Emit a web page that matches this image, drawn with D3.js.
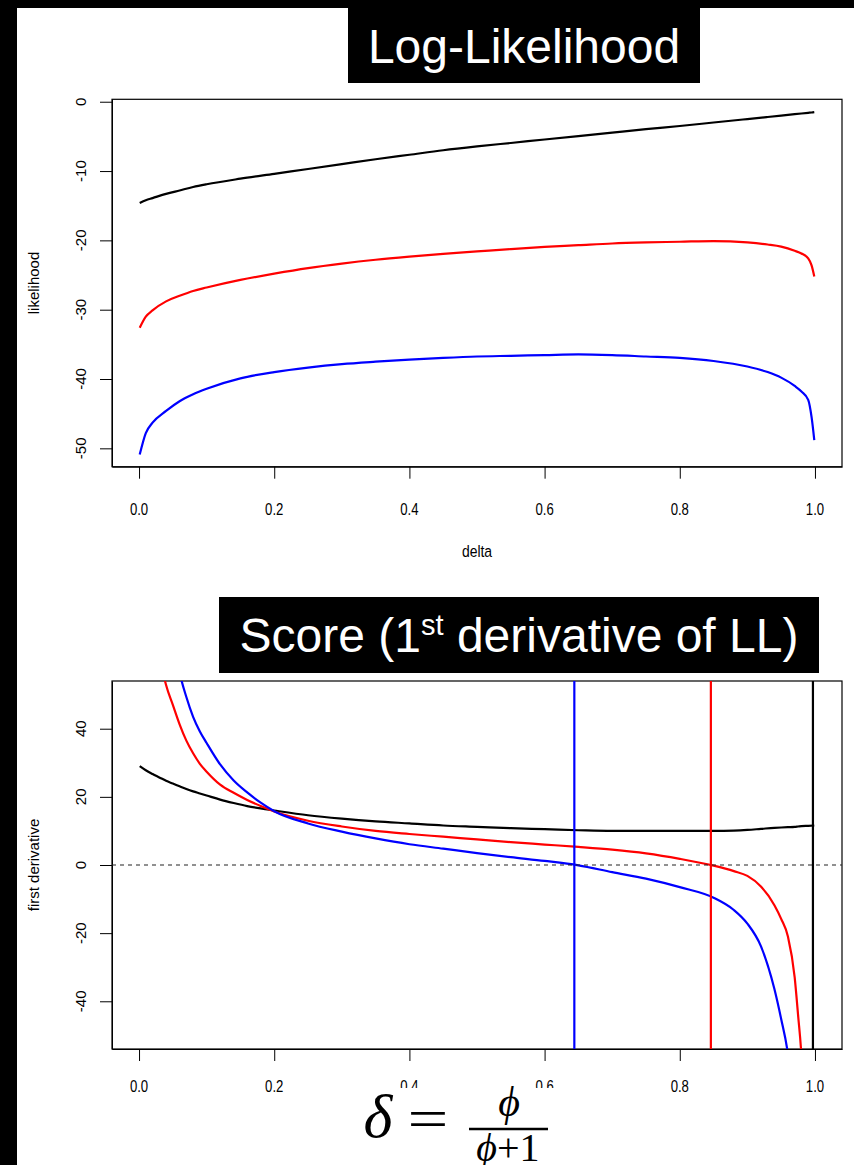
<!DOCTYPE html>
<html><head><meta charset="utf-8">
<script src="https://cdn.jsdelivr.net/npm/d3@7"></script>
<style>body{margin:0;background:#fff;} svg{display:block;}</style>
</head><body><svg id="c" width="854" height="1165"></svg>
<script>
// ---------------- DATA ----------------
const deltaLL = [0.001,0.01,0.02,0.04,0.06,0.08,0.1,0.15,0.2,0.25,0.3,0.35,0.4,0.45,0.5,0.55,0.6,0.65,0.7,0.75,0.8,0.85,0.9,0.93,0.95,0.97,0.98,0.99,0.995,0.999];
const llBlack = [-14.6,-14.2,-13.9,-13.3,-12.8,-12.3,-11.9,-11.1,-10.4,-9.7,-9.0,-8.3,-7.65,-7.0,-6.45,-5.95,-5.45,-4.95,-4.45,-3.95,-3.5,-3.0,-2.5,-2.2,-2.0,-1.8,-1.7,-1.6,-1.55,-1.5];
const llRed = [-32.6,-31.0,-30.1,-28.8,-28.0,-27.3,-26.8,-25.7,-24.8,-24.0,-23.35,-22.8,-22.35,-21.95,-21.6,-21.25,-20.95,-20.7,-20.45,-20.3,-20.2,-20.1,-20.3,-20.6,-20.9,-21.5,-21.9,-22.6,-23.6,-25.2];
const llBlue = [-50.9,-47.8,-46.3,-44.6,-43.2,-42.2,-41.4,-39.9,-39.0,-38.35,-37.85,-37.5,-37.2,-36.95,-36.75,-36.65,-36.55,-36.45,-36.55,-36.75,-36.95,-37.4,-38.2,-39.0,-39.8,-41.0,-41.8,-43.0,-45.5,-48.8];

const deltaScore = [0.001,0.01,0.02,0.03,0.04,0.05,0.06,0.07,0.08,0.09,0.1,0.12,0.14,0.16,0.18,0.2,0.25,0.3,0.35,0.4,0.45,0.5,0.55,0.6,0.65,0.7,0.75,0.8,0.85,0.88,0.9,0.92,0.94,0.95,0.96,0.97,0.975,0.98,0.99,0.999];
const scoreBlack = [29.0,27.8,26.7,25.7,24.7,23.9,23.1,22.3,21.6,21.0,20.4,19.2,18.2,17.3,16.6,16.0,14.6,13.6,12.8,12.2,11.6,11.2,10.8,10.5,10.2,10.0,10.0,10.0,10.0,10.1,10.3,10.6,10.9,11.0,11.1,11.2,11.3,11.4,11.5,11.6];
const scoreRed = [250,110,78,62,52.8,47,41.3,36.5,32.8,29.7,27.4,23.6,21.2,19.1,17.3,15.7,13.0,11.3,10.0,9.1,8.3,7.5,6.7,6.0,5.3,4.5,3.4,1.8,-0.2,-1.8,-3.2,-6.3,-11.8,-15.8,-21.0,-33.0,-44.0,-56,-110,-300];
const scoreBlue = [400,180,120,95,80,68,56.5,49.3,43.5,39.2,35.8,29.5,24.8,21.3,18.3,15.8,12.2,9.8,7.8,6.1,4.8,3.5,2.3,1.2,-0.1,-2.1,-4.0,-6.5,-9.6,-13.2,-17.2,-23.8,-36.4,-45.2,-55.5,-75,-90,-110,-180,-400];

const mleDelta = [0.644, 0.846, 0.997];
const mleColors = ["#0000ff", "#ff0000", "#000000"];
const seriesColors = ["#000000", "#ff0000", "#0000ff"];

const xTicks = [0, 0.2, 0.4, 0.6, 0.8, 1.0];
const llTicks = [0, -10, -20, -30, -40, -50];
const scoreTicks = [40, 20, 0, -20, -40];

// ---------------- DRAW ----------------
const svg = d3.select("#c");
const FONT = "'Liberation Sans', Arial, Helvetica, sans-serif";

svg.append("rect").attr("x",0).attr("y",0).attr("width",854).attr("height",1165).attr("fill","#fff");
svg.append("rect").attr("x",0).attr("y",0).attr("width",17).attr("height",1165).attr("fill","#000");
svg.append("rect").attr("x",0).attr("y",0).attr("width",854).attr("height",8).attr("fill","#000");

const L = 112, R = 842;
const x = d3.scaleLinear().domain([-0.04, 1.04]).range([L, R]);

function panel(top, bottom, yDomain, yTicks, ylab, xlabY, tickLabY, clipId) {
  const y = d3.scaleLinear().domain(yDomain).range([bottom, top]);
  const g = svg.append("g");
  g.append("clipPath").attr("id", clipId).append("rect")
    .attr("x", L).attr("y", top).attr("width", R - L).attr("height", bottom - top);
  const xa = g.append("g").attr("transform", `translate(0,${bottom})`)
    .call(d3.axisBottom(x).tickValues(xTicks).tickSize(12).tickSizeOuter(0).tickFormat(""));
  xa.select(".domain").attr("stroke", "#000");
  xa.selectAll(".tick line").attr("stroke", "#000");
  g.selectAll(".xlab").data(xTicks).join("text")
    .attr("transform", d => `translate(${x(d)},${tickLabY}) scale(0.85,1.1)`)
    .attr("text-anchor", "middle").attr("dominant-baseline", "central")
    .attr("font-family", FONT).attr("font-size", 15.5).attr("fill", "#000")
    .text(d => d3.format(".1f")(d));
  const ya = g.append("g").attr("transform", `translate(${L},0)`)
    .call(d3.axisLeft(y).tickValues(yTicks).tickSize(12).tickSizeOuter(0).tickFormat(""));
  ya.select(".domain").attr("stroke", "#000");
  ya.selectAll(".tick line").attr("stroke", "#000");
  g.selectAll(".ylab").data(yTicks).join("text")
    .attr("transform", d => `translate(80,${y(d)}) rotate(-90)`)
    .attr("text-anchor", "middle").attr("dominant-baseline", "central")
    .attr("font-family", FONT).attr("font-size", 15).attr("fill", "#000")
    .text(d => d);
  g.append("text").attr("transform", `translate(33,${(top + bottom) / 2}) rotate(-90)`)
    .attr("text-anchor", "middle").attr("dominant-baseline", "central")
    .attr("font-family", FONT).attr("font-size", 15).text(ylab);
  if (xlabY) {
    g.append("text").attr("transform", `translate(${(L + R) / 2},${xlabY}) scale(0.9,1.1)`)
      .attr("text-anchor", "middle").attr("dominant-baseline", "central")
      .attr("font-family", FONT).attr("font-size", 15.5).text("delta");
  }
  g.append("rect").attr("x", L).attr("y", top).attr("width", R - L).attr("height", bottom - top)
    .attr("fill", "none").attr("stroke", "#000").attr("stroke-width", 1.2);
  return { g, y };
}

// ---- Panel 1: log-likelihood
const p1 = panel(99.3, 466.7, [-52.65, 0.35], llTicks, "likelihood", 551, 509, "clip1");
const line1 = d3.line().x((d, i) => x(deltaLL[i])).y(d => p1.y(d)).curve(d3.curveMonotoneX);
[llBlack, llRed, llBlue].forEach((s, k) => {
  p1.g.append("path").datum(s).attr("d", line1).attr("fill", "none")
    .attr("stroke", seriesColors[k]).attr("stroke-width", 2.2).attr("clip-path", "url(#clip1)");
});

// ---- Panel 2: score
const p2 = panel(681, 1049, [-54, 54], scoreTicks, "first derivative", null, 1086, "clip2");
const line2 = d3.line().x((d, i) => x(deltaScore[i])).y(d => p2.y(d)).curve(d3.curveMonotoneX);
[scoreBlack, scoreRed, scoreBlue].forEach((s, k) => {
  p2.g.append("path").datum(s).attr("d", line2).attr("fill", "none")
    .attr("stroke", seriesColors[k]).attr("stroke-width", 2.2).attr("clip-path", "url(#clip2)");
});
p2.g.append("line").attr("x1", L).attr("x2", R).attr("y1", p2.y(0)).attr("y2", p2.y(0))
  .attr("stroke", "#222").attr("stroke-width", 1.2).attr("stroke-dasharray", "4,4");
mleDelta.forEach((d, k) => {
  p2.g.append("line").attr("x1", x(d)).attr("x2", x(d)).attr("y1", 681).attr("y2", 1049)
    .attr("stroke", mleColors[k]).attr("stroke-width", 2.2);
});

// ---- Title boxes
function titleBox(x0, y0, w, h, baseline, parts) {
  svg.append("rect").attr("x", x0).attr("y", y0).attr("width", w).attr("height", h).attr("fill", "#000");
  const t = svg.append("text").attr("x", x0 + w / 2).attr("y", baseline).attr("text-anchor", "middle")
    .attr("font-family", FONT).attr("font-size", 48).attr("fill", "#fff");
  parts.forEach(p => {
    const ts = t.append("tspan").text(p.t);
    if (p.sup) ts.attr("font-size", 29).attr("baseline-shift", "60%");
  });
}
titleBox(348, 8, 352, 75, 63, [{ t: "Log-Likelihood" }]);
titleBox(219, 597, 600, 76, 652, [{ t: "Score (1" }, { t: "st", sup: true }, { t: " derivative of LL)" }]);

// ---- Formula (white patch covering part of tick labels)
svg.append("rect").attr("x", 340).attr("y", 1088).attr("width", 250).attr("height", 77).attr("fill", "#fff");
const SERIF = "'Liberation Serif', 'DejaVu Serif', Times, serif";
svg.append("text").attr("x", 378).attr("y", 1137).attr("text-anchor", "middle")
  .attr("font-family", SERIF).attr("font-style", "italic").attr("font-size", 62).text("δ");
svg.append("text").attr("transform", "translate(428,1138) scale(1.25,1)").attr("text-anchor", "middle")
  .attr("font-family", SERIF).attr("font-size", 58).text("=");
svg.append("line").attr("x1", 469).attr("x2", 548).attr("y1", 1129).attr("y2", 1129)
  .attr("stroke", "#000").attr("stroke-width", 2.5);
svg.append("text").attr("x", 509).attr("y", 1116).attr("text-anchor", "middle")
  .attr("font-family", SERIF).attr("font-style", "italic").attr("font-size", 42).text("ϕ");
const den = svg.append("text").attr("x", 508).attr("y", 1161).attr("text-anchor", "middle")
  .attr("font-family", SERIF).attr("font-size", 40);
den.append("tspan").attr("font-style", "italic").text("ϕ");
den.append("tspan").text("+1");
</script></body></html>
